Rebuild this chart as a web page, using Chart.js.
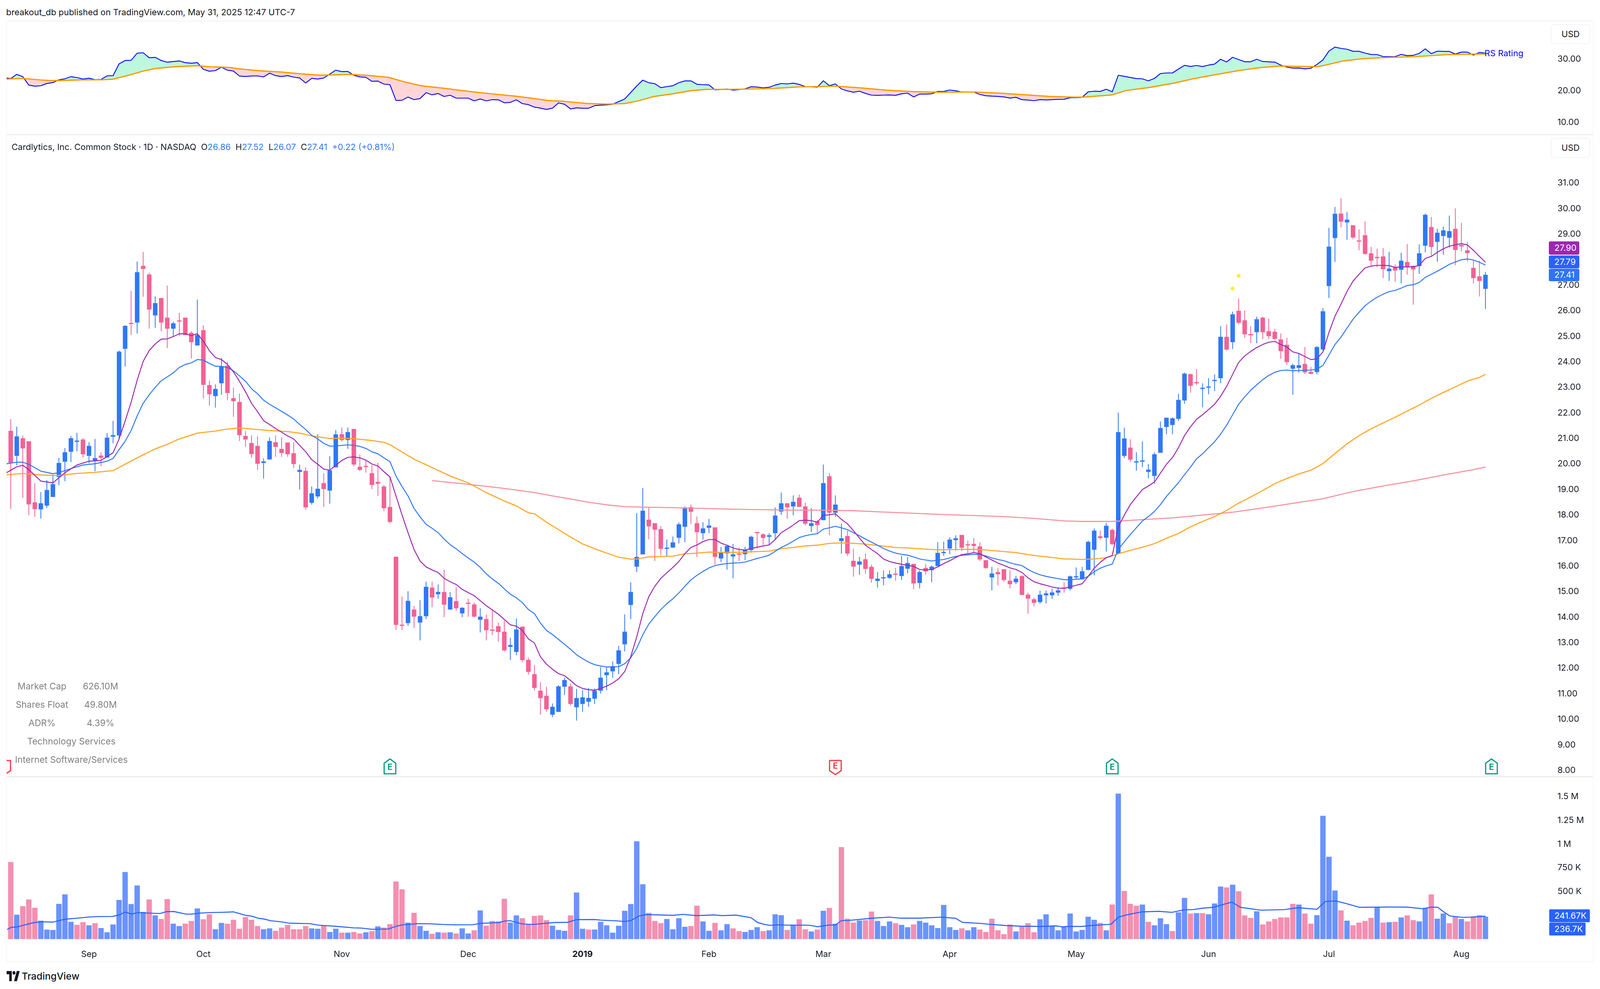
<!DOCTYPE html>
<html><head><meta charset="utf-8">
<script src="https://cdn.jsdelivr.net/npm/chart.js@4"></script>
<style>
html,body{margin:0;padding:0;background:#fff;width:100%;height:2532px;overflow:hidden}
canvas{position:absolute;display:block}
.t{position:absolute;white-space:pre;font-family:Inter,sans-serif;transform:translateY(-50%);line-height:1}
.c{transform:translate(-50%,-50%)}
.r{position:absolute}
</style></head><body>
<script>
const candleOpen=[21.30,20.32,21.01,20.89,18.5,18.22,18.37,18.71,19.49,20.09,20.48,20.87,20.96,20.32,20.14,20.33,20.25,21.07,21.12,24.51,25.51,25.54,27.76,27.42,25.82,26.5,25.73,25.3,25.62,25.73,25.14,24.64,25.24,23.09,22.66,23.16,23.85,22.58,22.43,21.1,20.82,20.71,20.04,20.18,20.85,20.59,20.84,20.42,19.69,19.73,18.48,18.73,19.25,18.96,19.87,21.17,20.94,21.37,19.89,19.91,19.64,19.3,19.12,18.32,16.37,13.69,13.77,14.3,13.79,14.04,15.16,14.9,14.99,14.3,14.63,14.15,14.54,14.5,13.9,13.93,13.5,13.65,13.43,12.84,12.64,13.63,12.33,11.77,
11.12,10.92,10.18,10.29,11.28,11.29,10.47,10.6,10.69,10.81,11.12,11.73,11.88,12.17,12.94,14.48,15.98,16.46,17.82,17.68,17.45,16.68,16.73,17.11,17.54,18.31,17.68,17.29,17.5,17.52,16.3,16.5,16.38,16.48,16.47,16.63,17.32,17.25,17.15,17.29,18.14,18.46,18.34,18.68,18.34,17.57,17.75,17.8,19.52,18.09,16.98,17.18,16.21,16.06,16.27,15.97,15.42,15.52,15.54,15.7,15.61,15.9,16.09,15.34,15.93,15.84,16.0,16.51,16.69,17.02,17.22,16.84,16.87,16.77,16.23,15.56,15.77,15.88,15.43,15.37,15.61,14.88,14.7,14.59,14.86,14.86,14.96,15.15,
15.11,15.56,15.49,15.85,16.64,17.17,17.11,17.42,16.49,20.32,20.64,20.06,20.09,19.69,19.53,20.44,21.45,21.53,21.77,22.49,23.52,23.19,22.94,22.99,23.25,23.36,24.98,24.77,26.0,25.63,25.09,25.16,25.73,25.2,25.18,24.88,24.67,23.73,23.76,23.92,23.61,23.6,24.49,26.97,28.85,29.81,29.46,29.35,28.75,28.96,28.25,28.11,28.13,27.55,27.71,27.61,27.91,27.76,27.75,28.55,29.28,28.7,28.93,28.86,29.21,28.58,28.37,27.68,27.35,26.86];
const candleHigh=[21.76,21.46,21.12,20.89,19.25,18.9,19.37,19.58,20.24,20.62,21.10,21.22,21.01,20.85,20.98,20.46,21.21,21.69,24.44,25.43,26.78,27.93,28.30,27.49,26.57,26.5,26.99,25.58,25.92,25.73,25.2,26.44,25.43,23.26,23.12,24.15,24.01,22.99,22.76,21.29,21.12,21.08,20.22,21.04,21.12,21.05,20.84,20.85,19.97,19.87,19.12,21.17,19.63,20.3,21.33,21.43,21.43,21.37,20.37,20.14,19.95,20.05,19.18,19.49,16.37,14.81,15.02,14.44,14.67,15.39,15.39,15.28,15.86,14.98,15.17,14.39,14.72,14.57,14.35,14.1,14.25,13.79,13.86,13.19,13.95,13.63,12.42,12.12,
11.46,11.27,10.62,11.34,11.63,11.4,11.19,11.15,11.23,11.21,12.05,12.04,12.27,12.88,14.11,15.37,18.08,19.06,18.29,17.68,17.57,17.04,17.16,17.71,18.34,18.41,17.94,17.72,17.85,17.52,16.75,16.83,16.87,16.73,16.76,17.19,17.33,17.29,17.29,18.3,18.88,18.46,18.77,18.8,18.48,18.27,17.82,19.98,19.64,18.77,17.66,17.39,16.68,16.36,16.49,16.06,15.77,15.83,15.83,15.93,16.4,16.36,16.09,15.83,16.09,16.03,16.94,16.96,17.13,17.21,17.22,17.0,17.1,16.93,16.23,15.97,15.93,15.88,15.83,15.62,15.64,14.96,14.76,15.04,15.04,15.11,15.17,15.37,
15.63,15.95,15.97,17.0,17.48,17.39,17.69,17.47,22.01,21.42,20.97,20.46,20.88,20.0,20.46,21.67,21.81,21.83,22.75,23.58,23.54,23.72,23.16,23.36,23.51,25.4,25.47,25.97,26.47,26.02,25.4,25.77,25.77,25.69,25.29,25.11,24.94,23.93,24.33,24.58,23.8,24.62,26.11,29.25,30.07,30.4,29.87,29.36,29.19,29.5,28.5,28.43,28.46,28.31,27.82,28.27,28.61,27.78,28.6,29.81,29.67,29.21,29.3,29.73,30.01,29.44,28.7,27.99,27.96,27.52];
const candleLow=[18.23,19.95,18.67,18.0,17.93,17.86,18.28,18.71,19.17,19.33,20.07,20.5,20.26,20.03,19.72,19.91,20.25,20.81,20.98,23.82,25.05,25.11,26.55,25.3,25.33,25.2,24.54,25.0,25.0,25.05,24.13,24.64,22.57,22.28,22.21,22.71,22.5,21.85,20.9,20.67,20.24,19.77,19.43,20.18,20.28,20.28,20.28,19.84,19.0,18.21,18.41,18.65,18.32,18.45,19.87,20.87,20.59,19.92,19.72,19.66,19.02,18.75,18.16,17.68,13.5,13.5,13.66,13.58,13.09,13.93,14.39,14.72,14.0,14.3,14.25,14.0,14.02,14.0,13.4,13.09,13.3,13.05,12.66,12.32,12.51,12.24,11.75,11.13,
10.18,10.29,10.09,10.29,10.95,10.54,9.95,10.29,10.49,10.6,11.01,11.15,11.63,11.77,12.66,13.92,15.77,16.46,17.05,16.2,16.43,16.38,16.71,16.89,16.94,17.65,16.36,17.04,17.29,16.06,16.16,15.86,15.52,16.2,16.23,16.53,16.69,16.82,16.82,17.04,18.01,17.86,17.99,18.32,17.6,17.33,17.27,17.8,17.21,17.93,16.49,16.4,15.59,15.66,15.7,15.35,15.16,15.25,15.5,15.43,15.46,15.72,15.1,15.13,15.66,15.37,16.0,16.4,16.47,16.61,16.59,16.49,16.53,16.2,15.89,15.05,15.25,15.39,15.13,15.29,14.87,14.14,14.43,14.53,14.54,14.72,14.84,14.96,
15.05,15.49,15.47,15.85,15.64,17.04,16.57,16.83,16.49,20.23,20.09,19.74,19.88,19.44,19.23,20.44,21.17,21.17,21.69,22.36,22.79,23.1,22.22,22.73,22.86,23.16,24.44,24.5,25.46,24.94,24.74,24.73,24.89,24.89,24.85,24.12,23.88,22.71,23.58,23.52,23.52,23.51,24.44,26.5,27.91,29.27,28.78,28.8,28.37,28.2,27.75,27.71,27.28,27.17,27.13,27.07,27.41,26.24,27.45,28.29,28.16,27.92,28.19,28.48,27.78,28.33,27.93,27.07,26.56,26.07];
const candleClose=[20.05,21.08,20.61,18.42,18.23,18.46,18.98,19.21,20.04,20.46,21.01,20.91,20.38,20.71,20.23,20.24,21.03,21.13,24.40,25.41,25.48,27.51,27.64,26.05,26.30,25.54,25.3,25.51,25.58,25.05,24.77,25.05,23.10,22.73,22.94,23.83,22.78,22.46,21.13,20.96,20.39,20.01,20.10,20.9,20.67,20.43,20.38,20.0,19.77,18.3,18.85,19.03,19.02,19.75,21.16,20.94,21.25,19.98,19.77,19.88,19.18,19.23,18.27,17.73,13.70,13.66,14.64,14.02,14.04,15.19,14.77,14.99,14.49,14.78,14.35,14.37,14.52,14.02,14.02,13.49,13.47,13.42,12.7,12.91,13.52,12.32,11.86,11.23,
10.83,10.39,10.49,11.29,11.54,10.6,10.83,10.86,10.84,11.12,11.63,11.84,12.08,12.7,13.43,14.99,16.36,18.17,17.56,17.43,16.68,16.70,16.93,17.64,18.28,18.13,17.33,17.48,17.59,16.36,16.55,16.79,16.46,16.45,16.63,17.15,17.29,17.1,17.21,17.98,18.46,18.3,18.52,18.32,17.66,17.68,17.61,19.25,18.09,18.41,17.09,16.49,15.98,16.18,15.89,15.5,15.51,15.56,15.68,15.66,16.0,16.12,15.32,15.77,15.79,15.98,16.52,16.55,17.04,17.09,16.72,16.81,16.79,16.26,15.93,15.71,15.68,15.46,15.29,15.51,14.87,14.73,14.56,14.88,14.93,14.97,15.05,15.12,
15.6,15.6,15.8,16.95,17.39,17.1,17.58,16.86,21.25,21.0,20.17,20.1,20.14,19.78,20.38,21.41,21.81,21.79,22.51,23.54,23.06,23.16,22.97,23.03,23.28,24.98,24.48,25.86,25.53,25.08,25.04,25.67,25.16,25.01,24.9,24.42,23.99,23.87,23.87,23.59,23.53,24.58,25.98,28.51,29.8,29.49,29.57,28.87,28.71,28.23,27.96,28.06,27.63,27.65,27.58,27.96,27.71,27.62,28.25,29.76,28.5,29.06,29.15,29.12,28.38,28.52,28.26,27.28,27.17,27.41];
const volumeK=[812,258,347,418,331,195,102,98,372,471,183,151,180,146,168,117,73,155,413,706,369,565,287,418,250,212,422,163,139,163,192,323,209,262,105,171,163,204,110,233,204,139,105,114,88,122,151,105,105,139,114,110,146,76,110,69,69,76,61,73,85,134,122,158,607,524,175,277,139,88,56,73,69,73,61,114,61,93,303,142,192,187,425,175,250,221,158,245,
250,200,142,98,88,250,491,110,102,102,183,146,69,142,299,369,1029,578,277,192,168,212,105,221,130,139,352,187,88,171,93,158,114,85,76,98,126,85,93,262,253,98,151,209,105,81,102,299,328,163,968,216,175,197,200,290,192,139,187,168,151,126,155,192,175,146,117,360,126,98,114,93,126,102,76,216,93,52,155,81,139,168,73,209,262,139,93,130,
270,81,98,236,204,171,93,364,1530,507,372,352,364,183,146,221,158,85,282,434,270,274,274,262,376,553,544,573,504,250,224,294,155,187,212,229,229,372,364,270,163,253,1297,866,512,303,195,146,175,192,224,335,175,180,183,229,250,200,187,328,471,216,270,168,236,212,187,241,253,236.7];
const volumeColourRows=["PBPPPBBBBB","BPPBPBBBBB","BBBPBPPBBP","PBPPBBPPPP","PPBBPPPPPP","BBPBBPBPPB","PBPPPPBPBB","PBPBPBBPBP","PPPBBPPPPP","BBBPBBPBBB","BBBBBBPPPB","BBBPPBBPBB","PPBBBPBBBP","BPPBPBPBPP","PBPPBBBPBB","PBBBBBBBPB","BPPPPPPBPP","PBBBBBBBBB","BPBPBPPPBP","BBBPBBPBPB","BBPBPPPBPP","PPPPBPPBBB","BPBPPPPBPB","PBPPBBPBBP","PBPPPB"];
const volumeMA=[[-0.6,102],[0.1,125],[1.1,130],[2.2,148],[3.9,175],[5,183],[7,180],[9,210],[11,221],[12.9,233],[14.6,238],[16.9,239],[18,255],[19,285],[20.1,264],[21,279],[23.1,274],[24.8,270],[25.9,290],[27.1,291],[29.1,264],[30.1,264],[31.3,274],[33.3,280],[35,282],[37,287],[39,251],[40.1,241],[41.2,219],[42,213],[43.2,194],[44.9,183],[46.2,169],[49.7,163],[51.1,148],[53.9,136],[57,119],[58.2,117],[60.1,104],[62.7,107],[64.1,137],[65.2,152],[66.1,155],[67.5,163],[69.5,162],[71.7,155],[74,151],[76.8,152],[78,166],[81.1,175],[82.2,192],[83,194],[85,160],[86.8,155],[90.2,175],[92.5,177],[94,206],[97,207],[98.1,200],[100.4,194],[102,186],[103,195],[104.4,244],[105.5,259],[107.7,255],[110,251],[111.7,261],[113.9,248],[116.8,255],[118.2,248],[120.5,253],[123,226],[124.1,175],[125.3,154],[126.1,146],[127.5,151],[128.9,148],[132,148],[132.9,145],[134,131],[136,149],[137,149],[138,195],[139.4,198],[142.8,219],[145.9,232],[147.9,221],[151,221],[154.7,232],[157,219],[158.1,177],[161,166],[162.6,157],[165.4,143],[167.7,137],[171,134],[173.6,140],[174.7,130],[175.5,134],[178,134],[179.1,142],[182.8,157],[184,232],[185.4,256],[187.9,287],[190.7,293],[192.9,282],[194.9,308],[196.4,311],[198,326],[199.8,335],[201.5,366],[202.9,390],[204.3,335],[207.7,305],[211.6,311],[213.9,331],[217,314],[218.4,396],[220.1,402],[221.8,376],[224.1,335],[229.2,338],[232,337],[234.6,320],[236,338],[237.1,335],[238,290],[239.1,244],[241.1,230],[242.7,232],[245,241.67]];
const ma10=[[-0.7,19.66],[1,19.89],[2,19.95],[3,19.78],[5,19.33],[7,19.26],[9,19.66],[11,19.96],[13,20.11],[15,20.14],[17,20.44],[18,20.98],[19,21.68],[20,22.42],[21,23.28],[22,24.02],[23,24.44],[24,24.7],[25,24.89],[26,24.9],[27,24.99],[28,25.1],[29,25.1],[30,25.03],[31,25.1],[32,24.81],[33,24.44],[34,24.17],[35,24.09],[36,23.9],[37,23.61],[38,23.24],[39,22.83],[40,22.38],[41,22.05],[42,21.7],[44,21.39],[46,21.1],[47,20.98],[49,20.48],[50,20.17],[51,19.99],[52,19.8],[53,19.76],[54,19.95],[55,20.14],[56,20.26],[57,20.28],[58,20.24],[59,20.15],[60,20.0],[61,19.92],[62,19.7],[63,19.49],[64,18.75],[65,18.01],[66,17.31],[67,16.65],[68,16.2],[69,15.97],[70,15.85],[71,15.75],[72,15.52],[73,15.39],[74,15.28],[75,15.09],[77,14.84],[79,14.45],[81,14.12],[83,13.7],[84,13.65],[85,13.48],[86,13.15],[87,12.99],[88,12.45],[89,12.16],[90,11.96],[91,11.79],[92,11.71],[93,11.52],[94,11.32],[95,11.21],[96,11.16],[97,11.14],[98,11.21],[99,11.3],[100,11.42],[101,11.59],[102,11.87],[103,12.45],[104,13.23],[105,14.14],[106,14.8],[107,15.21],[108,15.52],[109,15.74],[110,15.95],[111,16.18],[112,16.49],[113,16.73],[114,16.83],[115,16.96],[116,17.04],[117,17.04],[118,16.9],[119,16.82],[120,16.71],[121,16.65],[122,16.63],[123,16.69],[124,16.74],[125,16.79],[126,16.83],[127,17.04],[128,17.31],[129,17.45],[130,17.61],[131,17.78],[132,17.8],[133,17.78],[134,17.72],[135,17.99],[136,18.01],[137,18.05],[138,17.83],[139,17.66],[140,17.39],[141,17.1],[142,16.82],[143,16.65],[144,16.49],[145,16.28],[146,16.18],[147,16.12],[148,16.07],[149,16.03],[150,15.99],[151,15.87],[152,15.85],[153,15.87],[154,15.97],[155,16.1],[156,16.21],[157,16.34],[158,16.45],[159,16.48],[160,16.53],[161,16.49],[162,16.36],[163,16.24],[164,16.12],[165,16.03],[166,15.93],[167,15.87],[168,15.75],[169,15.54],[170,15.39],[171,15.31],[172,15.25],[173,15.18],[174,15.14],[175,15.13],[176,15.19],[177,15.25],[178,15.31],[179,15.6],[180,15.92],[181,16.15],[182,16.33],[183,16.42],[184,17.54],[185,18.0],[186,18.41],[187,18.71],[188,19.0],[189,19.14],[190,19.29],[191,19.64],[192,19.99],[193,20.25],[194,20.64],[195,21.11],[196,21.46],[197,21.75],[198,21.93],[199,22.13],[200,22.34],[201,22.65],[202,23.04],[203,23.51],[204,23.98],[205,24.23],[206,24.41],[207,24.56],[208,24.68],[209,24.77],[210,24.8],[211,24.68],[212,24.58],[213,24.39],[214,24.33],[215,24.21],[216,24.09],[217,24.12],[218,24.39],[219,25.15],[220,25.79],[221,26.26],[222,26.76],[223,27.16],[224,27.43],[225,27.68],[226,27.75],[227,27.78],[228,27.78],[229,27.77],[230,27.7],[231,27.72],[232,27.72],[233,27.72],[234,27.78],[235,28.05],[236,28.13],[237,28.29],[238,28.43],[239,28.53],[240,28.59],[241,28.63],[242,28.58],[243,28.37],[244,28.13],[245,27.90]];
const ma20=[[-0.7,20.01],[1,20.07],[2,20.07],[3,19.99],[5,19.72],[7,19.62],[8,19.66],[10,19.82],[12,19.96],[14,20.01],[16,20.11],[17,20.22],[18,20.56],[19,20.89],[20,21.31],[21,21.88],[22,22.38],[23,22.71],[24,23.0],[25,23.26],[26,23.41],[27,23.57],[28,23.78],[29,23.9],[30,23.96],[31,24.09],[32,24.07],[33,23.94],[34,23.83],[35,23.82],[36,23.78],[37,23.65],[38,23.45],[39,23.24],[40,22.95],[41,22.75],[42,22.5],[43,22.34],[44,22.2],[46,21.92],[47,21.76],[48,21.55],[49,21.35],[50,21.12],[51,20.98],[52,20.81],[53,20.7],[54,20.7],[55,20.73],[56,20.75],[57,20.73],[58,20.69],[59,20.61],[60,20.48],[61,20.4],[62,20.24],[63,20.09],[64,19.53],[65,19.12],[66,18.75],[67,18.26],[68,17.93],[69,17.64],[70,17.48],[71,17.31],[72,17.06],[73,16.84],[74,16.68],[75,16.49],[76,16.32],[77,16.16],[78,15.95],[79,15.7],[80,15.5],[81,15.33],[82,15.11],[83,14.9],[84,14.76],[85,14.57],[86,14.3],[87,14.14],[88,13.77],[89,13.48],[90,13.32],[91,13.13],[92,12.94],[93,12.74],[94,12.53],[95,12.38],[96,12.24],[97,12.14],[98,12.09],[99,12.05],[100,12.05],[101,12.06],[102,12.18],[103,12.41],[104,12.78],[105,13.31],[106,13.73],[107,14.02],[108,14.3],[109,14.53],[110,14.72],[111,14.95],[112,15.21],[113,15.46],[114,15.64],[115,15.79],[116,15.93],[117,16.02],[118,16.07],[119,16.1],[120,16.12],[121,16.13],[122,16.16],[123,16.23],[124,16.3],[125,16.36],[126,16.43],[127,16.58],[128,16.73],[129,16.84],[130,16.98],[131,17.12],[132,17.19],[133,17.24],[134,17.27],[135,17.45],[136,17.5],[137,17.56],[138,17.5],[139,17.43],[140,17.31],[141,17.19],[142,17.06],[143,16.94],[144,16.82],[145,16.69],[146,16.59],[147,16.51],[148,16.46],[149,16.43],[150,16.36],[151,16.28],[152,16.24],[153,16.2],[154,16.23],[155,16.26],[156,16.32],[157,16.38],[158,16.42],[159,16.44],[160,16.46],[161,16.46],[162,16.4],[163,16.32],[164,16.26],[165,16.21],[166,16.13],[167,16.07],[168,16.02],[169,15.87],[170,15.75],[171,15.66],[172,15.6],[173,15.55],[174,15.51],[175,15.47],[176,15.46],[177,15.49],[178,15.5],[179,15.6],[180,15.78],[181,15.92],[182,16.01],[183,16.08],[184,16.66],[185,16.95],[186,17.24],[187,17.5],[188,17.77],[189,17.94],[190,18.14],[191,18.41],[192,18.73],[193,19.0],[194,19.27],[195,19.58],[196,19.88],[197,20.2],[198,20.4],[199,20.64],[200,20.87],[201,21.17],[202,21.52],[203,21.93],[204,22.34],[205,22.63],[206,22.89],[207,23.1],[208,23.3],[209,23.47],[210,23.59],[211,23.66],[212,23.68],[213,23.65],[214,23.66],[215,23.67],[216,23.68],[217,23.71],[218,23.86],[219,24.27],[220,24.68],[221,24.97],[222,25.32],[223,25.67],[224,25.94],[225,26.2],[226,26.38],[227,26.53],[228,26.65],[229,26.75],[230,26.8],[231,26.89],[232,26.99],[233,27.02],[234,27.11],[235,27.31],[236,27.43],[237,27.55],[238,27.68],[239,27.82],[240,27.91],[241,28.0],[242,28.03],[243,27.99],[244,27.9],[245,27.79]];
const ma50=[[-0.7,19.58],[2,19.63],[5,19.57],[8,19.55],[11,19.63],[14,19.67],[17,19.74],[19,19.99],[21,20.24],[22,20.36],[24,20.59],[26,20.77],[28,20.98],[31,21.21],[34,21.29],[36,21.37],[38,21.41],[41,21.35],[43,21.31],[46,21.27],[48,21.21],[50,21.1],[53,21.0],[55,21.01],[57,20.99],[60,20.92],[62,20.85],[63,20.76],[65,20.47],[67,20.19],[70,19.86],[73,19.53],[76,19.26],[79,18.88],[82,18.55],[84,18.36],[86,18.09],[87,18.05],[89,17.72],[91,17.43],[93,17.14],[95,16.87],[97,16.68],[99,16.51],[101,16.35],[103,16.27],[104,16.28],[106,16.36],[108,16.38],[110,16.39],[112,16.48],[114,16.51],[116,16.55],[118,16.54],[121,16.54],[123,16.56],[126,16.59],[128,16.68],[130,16.73],[132,16.79],[134,16.82],[136,16.89],[138,16.91],[140,16.89],[142,16.86],[144,16.81],[147,16.73],[149,16.71],[151,16.68],[154,16.64],[157,16.65],[160,16.66],[162,16.63],[165,16.57],[167,16.53],[169,16.45],[171,16.39],[173,16.34],[175,16.28],[176,16.28],[178,16.26],[180,16.28],[182,16.33],[184,16.48],[186,16.62],[188,16.74],[190,16.88],[192,17.09],[194,17.28],[196,17.54],[198,17.75],[200,17.94],[202,18.18],[204,18.47],[206,18.71],[208,18.96],[210,19.23],[212,19.43],[214,19.61],[216,19.76],[217,19.88],[218,20.02],[220,20.41],[222,20.79],[224,21.11],[226,21.38],[228,21.61],[230,21.83],[232,22.07],[234,22.31],[236,22.57],[238,22.8],[240,23.02],[242,23.25],[244,23.39],[245,23.51]];
const ma200=[[70,19.35],[72,19.3],[75,19.23],[78,19.15],[81,19.07],[84,18.98],[87,18.88],[90,18.75],[93,18.63],[96,18.5],[99,18.4],[102,18.33],[105,18.31],[110,18.29],[115,18.26],[120,18.23],[125,18.21],[130,18.19],[135,18.19],[140,18.17],[145,18.12],[150,18.07],[155,18.02],[160,17.98],[165,17.94],[170,17.87],[175,17.77],[178,17.75],[183,17.75],[188,17.82],[193,17.89],[198,18.0],[203,18.11],[208,18.28],[213,18.46],[218,18.64],[223,18.92],[228,19.14],[233,19.34],[238,19.57],[243,19.78],[245,19.88]];
const signalDots=[[203,26.87],[204,27.37]];
const rsRating=[[-0.7,24.07],[0,23.87],[1,25.2],[2,24.47],[3,21.8],[4,21.47],[5,21.6],[6,22.33],[7,22.6],[8,23.47],[9,23.8],[10,24.47],[11,24.2],[12,23.73],[13,24.0],[14,23.53],[15,23.6],[16,24.73],[17,24.8],[18,28.53],[19,29.6],[20,29.67],[21,31.93],[22,32.07],[23,30.47],[24,30.6],[25,29.6],[26,29.07],[27,29.27],[28,29.47],[29,28.93],[30,28.73],[31,28.93],[32,26.8],[33,26.2],[34,26.4],[35,27.47],[36,26.53],[37,26.27],[38,24.67],[39,24.53],[40,24.67],[41,24.73],[42,24.4],[43,25.6],[44,24.8],[45,24.53],[46,24.8],[47,24.33],[48,24.07],[49,22.47],[50,23.93],[51,23.73],[52,24.07],[53,25.27],[54,26.53],[55,26.07],[56,26.13],[57,24.93],[58,24.4],[59,24.27],[60,23.0],[61,23.07],[62,22.13],[63,21.93],[64,16.93],[65,17.0],[66,18.0],[67,17.2],[68,17.53],[69,19.4],[70,18.73],[71,19.13],[72,18.2],[73,18.6],[74,17.67],[75,17.67],[76,17.67],[77,16.8],[78,17.4],[79,16.8],[80,17.2],[81,17.13],[82,16.2],[83,16.33],[84,17.13],[85,15.93],[86,15.6],[87,14.83],[88,14.5],[89,14.09],[90,14.5],[91,16.15],[92,15.74],[93,14.25],[94,14.58],[95,14.46],[96,14.46],[97,15.29],[98,15.45],[99,15.53],[100,15.74],[101,16.57],[102,17.4],[103,19.46],[104,21.53],[105,23.38],[106,22.56],[107,22.23],[108,20.99],[109,21.32],[110,21.61],[111,22.56],[112,23.14],[113,23.14],[114,22.06],[115,21.94],[116,21.86],[117,20.29],[118,20.41],[119,20.58],[120,20.2],[121,20.37],[122,20.62],[123,21.28],[124,21.19],[125,20.95],[126,21.11],[127,21.81],[128,22.31],[129,22.19],[130,22.43],[131,22.02],[132,21.32],[133,21.28],[134,21.15],[135,23.18],[136,21.61],[137,22.19],[138,20.58],[139,19.96],[140,19.54],[141,19.87],[142,19.17],[143,18.63],[144,18.55],[145,18.63],[146,18.67],[147,18.55],[148,19.05],[149,19.25],[150,18.05],[151,18.96],[152,18.96],[153,19.05],[154,19.79],[155,19.79],[156,20.24],[157,20.0],[158,19.62],[159,19.62],[160,19.58],[161,18.84],[162,18.43],[163,18.3],[164,18.22],[165,18.05],[166,17.68],[167,17.93],[168,17.19],[169,17.06],[170,16.86],[171,17.19],[172,17.1],[173,17.19],[174,17.27],[175,17.31],[176,17.81],[177,17.81],[178,17.93],[179,19.67],[180,19.87],[181,19.79],[182,20.49],[183,19.67],[184,24.91],[185,24.58],[186,24.21],[187,23.88],[188,23.8],[189,23.14],[190,23.92],[191,25.45],[192,25.66],[193,25.66],[194,26.9],[195,28.05],[196,27.72],[197,28.01],[198,27.68],[199,28.14],[200,28.47],[201,30.0],[202,29.13],[203,30.62],[204,29.91],[205,29.21],[206,29.21],[207,30.0],[208,29.29],[209,29.17],[210,29.09],[211,28.14],[212,27.52],[213,27.19],[214,27.23],[215,26.94],[216,27.15],[217,28.34],[218,29.79],[219,32.6],[220,33.84],[221,33.43],[222,33.18],[223,32.52],[224,32.52],[225,31.94],[226,31.53],[227,31.48],[228,30.86],[229,30.82],[230,30.86],[231,31.53],[232,31.15],[233,31.24],[234,31.86],[235,33.3],[236,31.77],[237,32.56],[238,32.48],[239,32.48],[240,31.65],[241,32.27],[242,32.27],[243,31.32],[244,32.15],[245,31.94]];
const rsAverage=[[-0.7,23.72],[2,23.92],[5,23.43],[6.7,23.22],[8.4,23.26],[11.8,23.47],[15.2,23.51],[17,23.67],[19.8,25.04],[22,26.24],[24,27.06],[27,27.6],[30.9,27.97],[33,27.64],[36,27.43],[38.5,26.86],[41.5,26.32],[44.9,25.95],[48.3,25.37],[51.2,24.96],[52.9,25.0],[56.3,25.2],[59.3,24.91],[62.8,24.25],[65.2,22.93],[68.1,21.61],[71.9,20.82],[76.2,19.79],[79.6,19.09],[83.8,18.3],[86.4,17.68],[89.3,16.9],[91.9,16.65],[95.7,15.99],[99.1,15.78],[102,15.95],[104.2,16.77],[106.7,18.14],[109.7,18.96],[113,20.04],[115.6,20.45],[119.4,20.45],[123.2,20.58],[126.2,20.7],[129.6,21.07],[131.1,21.26],[134,21.32],[137,21.48],[141.3,20.91],[145.5,20.2],[149.7,19.75],[154,19.54],[160,19.62],[164.8,19.21],[168.2,18.76],[172.6,18.22],[176.9,17.97],[178.6,18.05],[182.9,18.67],[185.3,20.08],[189.1,21.03],[193.4,22.48],[196.4,23.8],[199.7,24.96],[204,26.4],[207.4,27.31],[210.8,27.85],[217.1,27.64],[218.4,28.14],[221.4,29.46],[224.3,30.12],[227.7,30.49],[233.6,30.86],[238.7,31.48],[245,31.69]];
const priceTicks=[8,9,10,11,12,13,14,15,16,17,18,19,20,21,22,23,24,25,26,27,29,30,31];
const rsTicks=[10,20,30];
const volumeTicks=[500,750,1000,1250,1500];
const volumeTickLabels=["500 K","750 K","1 M","1.25 M","1.5 M"];
const timeTickBars=[13,32,55,76,95,116,135,156,177,199,219,241];
const timeTickLabels=["Sep","Oct","Nov","Dec","2019","Feb","Mar","Apr","May","Jun","Jul","Aug"];
const earningsBars=[-1,63,137,183,246];
const earningsBeat=[false,true,false,true,true];

// Laid out on a 4950-wide design; horizontal geometry follows the real window width.
const SX=window.innerWidth/4950;
const fs=n=>n*(0.5+0.5*SX);
const BLUE="#2f78f5",PINK="#f26294",VBLUE="#6a93ff",VPINK="#f48fb1",INK="#131722",FONT="Inter, sans-serif";
const PANE_L=19*SX,PANE_W=Math.round(4906*SX),AXIS_W=137*SX,X_MIN=-0.7465,X_MAX=255.376;
const TICK_SIZE=fs(24);
const volumeIsUp=volumeColourRows.join("").split("").map(c=>c==="B");
const pts=a=>a.map(p=>({x:p[0],y:p[1]}));
const noPad=a=>{a.paddingTop=0;a.paddingBottom=0;a.paddingLeft=0;a.paddingRight=0;};
function addCanvas(top,h){const c=document.createElement("canvas");c.width=PANE_W;c.height=h;c.style.left=PANE_L+"px";c.style.top=top+"px";c.style.width=PANE_W+"px";c.style.height=h+"px";document.body.appendChild(c);return c;}
function xAxis(extra){return Object.assign({type:"linear",min:X_MIN,max:X_MAX,offset:false,display:false,grid:{display:false},border:{display:false},afterFit:noPad},extra||{});}
function yAxis(min,max,tickVals,fmt){return {type:"linear",position:"right",min,max,offset:false,grid:{display:false},border:{display:false},
  afterBuildTicks:a=>{a.ticks=tickVals.map(v=>({value:v}));},afterFit:a=>{a.width=AXIS_W;noPad(a);},
  ticks:{color:INK,font:{family:FONT,size:TICK_SIZE},padding:20*SX,crossAlign:"near",autoSkip:false,callback:fmt}};}
const baseOpts=()=>({responsive:false,animation:false,devicePixelRatio:1,events:[],layout:{padding:0,autoPadding:false},plugins:{legend:{display:false},tooltip:{enabled:false}}});
const line=(data,color,w,order,extra)=>Object.assign({type:"line",data:pts(data),borderColor:color,borderWidth:w,pointRadius:0,tension:0,fill:false,order,borderJoinStyle:"round"},extra||{});

new Chart(addCanvas(54,290),{type:"line",data:{datasets:[
  line(rsRating,"#0000ff",2.2,2,{fill:{target:1,above:"#bdf7de",below:"#ffd5d8"}}),
  line(rsAverage,"#ff9800",3.2,1)
]},options:Object.assign(baseOpts(),{scales:{x:xAxis(),y:yAxis(6.18,42.1,rsTicks,v=>v.toFixed(2))}})});

const earningsPlugin={id:"earnings",afterDatasetsDraw(ch){
  const c=ch.ctx,a=ch.chartArea,xs=ch.scales.x;c.save();c.beginPath();c.rect(a.left,a.top,a.right-a.left+60,a.bottom-a.top);c.clip();
  earningsBars.forEach((b,n)=>{const beat=earningsBeat[n],col=beat?"#089981":"#f23645",x=xs.getPixelForValue(b),hw=18*SX,B=a.bottom;
    c.beginPath();
    if(beat){c.moveTo(x,B-45);c.lineTo(x+hw,B-34);c.lineTo(x+hw,B-7);c.lineTo(x-hw,B-7);c.lineTo(x-hw,B-34);}
    else{c.moveTo(x-hw,B-41);c.lineTo(x+hw,B-41);c.lineTo(x+hw,B-15);c.lineTo(x,B-5);c.lineTo(x-hw,B-15);}
    c.closePath();c.fillStyle="#fff";c.fill();c.lineWidth=3;c.lineJoin="round";c.strokeStyle=col;c.stroke();
    c.fillStyle=col;c.font="700 "+fs(23)+"px "+FONT;c.textAlign="center";c.textBaseline="middle";
    c.fillText("E",x,beat?B-23:B-26);});
  c.restore();}};
const idx=candleOpen.map((_,i)=>i);
new Chart(addCanvas(344,1644),{type:"line",plugins:[earningsPlugin],data:{datasets:[
  {type:"scatter",data:pts(signalDots),backgroundColor:"#ffeb3b",borderWidth:0,pointRadius:5,order:0},
  line(ma10,"#9c27b0",2.4,1),
  line(ma20,"#2e75f6",2.4,2),
  line(ma50,"#ffa726",2.8,3),
  line(ma200,"#f7929f",2.8,4),
  {type:"bar",data:idx.map(i=>({x:i,y:[candleOpen[i],candleClose[i]]})),backgroundColor:idx.map(i=>candleClose[i]>=candleOpen[i]?BLUE:PINK),barThickness:14*SX,grouped:false,inflateAmount:0,minBarLength:3,order:5},
  {type:"bar",data:idx.map(i=>({x:i,y:[candleLow[i],candleHigh[i]]})),backgroundColor:idx.map(i=>candleClose[i]>=candleOpen[i]?BLUE:PINK),barThickness:2,grouped:false,inflateAmount:0,order:6}
]},options:Object.assign(baseOpts(),{scales:{x:xAxis(),y:yAxis(7.76,32.91,priceTicks,v=>v.toFixed(2))}})});

new Chart(addCanvas(1988,474),{type:"line",data:{datasets:[
  line(volumeMA,"#2962ff",2.6,1),
  {type:"bar",data:volumeK.map((v,i)=>({x:i,y:v})),backgroundColor:volumeK.map((v,i)=>volumeIsUp[i]?VBLUE:VPINK),barThickness:16.6*SX,grouped:false,inflateAmount:0,order:2}
]},options:Object.assign(baseOpts(),{scales:{
  x:xAxis({display:true,position:"bottom",afterBuildTicks:a=>{a.ticks=timeTickBars.map(v=>({value:v}));},afterFit:a=>{a.height=57.5;noPad(a);},
    ticks:{color:INK,padding:18,autoSkip:false,maxRotation:0,minRotation:0,
      font:c=>({family:FONT,size:TICK_SIZE,weight:timeTickLabels[timeTickBars.indexOf(c.tick&&c.tick.value)]==="2019"?"700":"400"}),
      callback:v=>timeTickLabels[timeTickBars.indexOf(v)]}}),
  y:yAxis(0,1710,volumeTicks,v=>volumeTickLabels[volumeTicks.indexOf(v)])}})});

function txt(x,y,s,size,color,o){const d=document.createElement("div");d.className="t"+(o&&o.center?" c":"");d.style.left=(x*SX)+"px";d.style.top=y+"px";d.style.fontSize=fs(size)+"px";d.style.color=color;if(o&&o.weight)d.style.fontWeight=o.weight;d.textContent=s;document.body.appendChild(d);return d;}
function rect(x,y,w,h,bg,o){const d=document.createElement("div");d.className="r";d.style.cssText+=`left:${x*SX}px;top:${y}px;width:${w*SX}px;height:${h}px;background:${bg};`+(o||"");document.body.appendChild(d);return d;}
rect(19,53,4910,2,"#f0f3fa");rect(19,342.5,4910,3,"#eceef2");rect(19,1986.5,4910,3,"#eceef2");rect(19,2461,4910,2,"#f0f3fa");
rect(19,54,2,2408,"#f0f3fa");rect(4928,54,2,2408,"#f0f3fa");
txt(19,32,"breakout_db published on TradingView.com, May 31, 2025 12:47 UTC-7",24,INK);
(function(){const d=txt(36,377,"",24,INK);const B="#2e75f6";
  d.innerHTML=`Cardlytics, Inc. Common Stock · 1D · NASDAQ  O<span style="color:${B}">26.86</span>  H<span style="color:${B}">27.52</span>  L<span style="color:${B}">26.07</span>  C<span style="color:${B}">27.41</span>  <span style="color:${B}">+0.22 (+0.81%)</span>`;})();
txt(4593,137,"RS Rating",24,"#0000ff");
[[62,113],[353,404]].forEach(p=>{rect(4798,p[0],122,p[1]-p[0],"#fff","border:2px solid #f0f3fa;border-radius:8px;box-sizing:border-box;");txt(4859,(p[0]+p[1])/2,"USD",24,INK,{center:true});});
[["27.90",618,34,"#9c27b0"],["27.79",654,33,"#2962ff"],["27.41",688,32,"#2e75f6"]].forEach(b=>{rect(4792,b[1],94,b[2],b[3],"border-radius:4px;");txt(4809,b[1]+b[2]/2,b[0],24,"#fff");});
[["241.67K",2328,33,126],["236.7K",2362,33,112]].forEach(b=>{rect(4793,b[1],b[3],b[2],"#2962ff","border-radius:3px;");txt(4809,b[1]+b[2]/2,b[0],24,"#fff");});
const G="#7f7f7f";
[["Market Cap",130,1757],["626.10M",311,1757],["Shares Float",130,1804],["49.80M",311,1804],["ADR%",130,1851],["4.39%",311,1851],["Technology Services",221,1898],["Internet Software/Services",221,1945]].forEach(r=>txt(r[1],r[2],r[0],25,G,{center:true}));
(function(){const ns="http://www.w3.org/2000/svg",s=document.createElementNS(ns,"svg");s.setAttribute("viewBox","0 0 36 22");s.style.cssText=`position:absolute;left:${20*SX}px;top:2486px;width:${41*SX}px;height:26px`;s.setAttribute("preserveAspectRatio","none");
  s.innerHTML='<path fill="#131722" d="M14 22H7V7H0V0h14v22zM28 22h-8L27.5 0h8L28 22z"/><circle cx="20" cy="4" r="4" fill="#131722"/>';document.body.appendChild(s);})();
txt(67,2499,"TradingView",27,INK,{weight:500});
</script>
</body></html>
